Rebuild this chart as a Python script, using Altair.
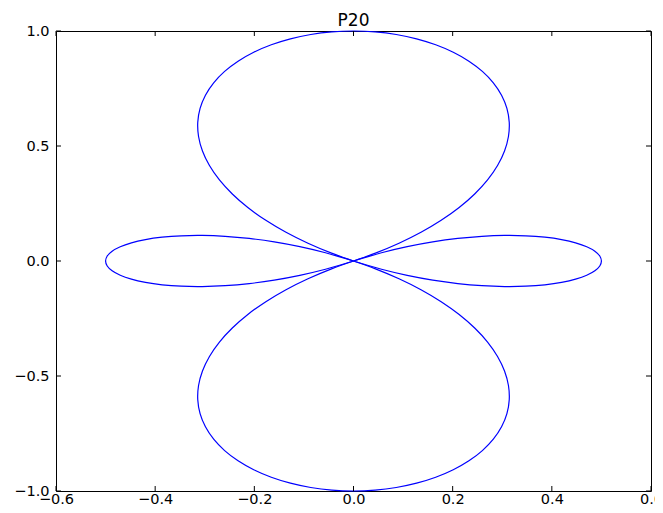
import altair as alt
import pandas as pd

# Curve points, lobe by lobe (each lobe starts and ends at the origin)
top_x = [0.0, -0.0443, -0.0918, -0.1361, -0.1768, -0.2131, -0.2444, -0.2704, -0.2905, -0.3046,
         -0.3125, -0.3141, -0.3094, -0.2986, -0.2820, -0.2599, -0.2328, -0.2012, -0.1658, -0.1272,
         -0.0862, -0.0435, 0.0,
         0.0435, 0.0862, 0.1272, 0.1658, 0.2012, 0.2328, 0.2599, 0.2820, 0.2986, 0.3094,
         0.3141, 0.3125, 0.3046, 0.2905, 0.2704, 0.2444, 0.2131, 0.1768, 0.1361, 0.0918,
         0.0443, 0.0]
top_y = [0.0, 0.0340, 0.0770, 0.1247, 0.1768, 0.2325, 0.2913, 0.3523, 0.4149, 0.4782,
         0.5413, 0.6033, 0.6635, 0.7209, 0.7748, 0.8244, 0.8689, 0.9077, 0.9403, 0.9661,
         0.9849, 0.9962, 1.0,
         0.9962, 0.9849, 0.9661, 0.9403, 0.9077, 0.8689, 0.8244, 0.7748, 0.7209, 0.6635,
         0.6033, 0.5413, 0.4782, 0.4149, 0.3523, 0.2913, 0.2325, 0.1768, 0.1247, 0.0770,
         0.0340, 0.0]
bottom_x = [0.0, -0.0443, -0.0918, -0.1361, -0.1768, -0.2131, -0.2444, -0.2704, -0.2905, -0.3046,
            -0.3125, -0.3141, -0.3094, -0.2986, -0.2820, -0.2599, -0.2328, -0.2012, -0.1658, -0.1272,
            -0.0862, -0.0435, 0.0,
            0.0435, 0.0862, 0.1272, 0.1658, 0.2012, 0.2328, 0.2599, 0.2820, 0.2986, 0.3094,
            0.3141, 0.3125, 0.3046, 0.2905, 0.2704, 0.2444, 0.2131, 0.1768, 0.1361, 0.0918,
            0.0443, 0.0]
bottom_y = [0.0, -0.0340, -0.0770, -0.1247, -0.1768, -0.2325, -0.2913, -0.3523, -0.4149, -0.4782,
            -0.5413, -0.6033, -0.6635, -0.7209, -0.7748, -0.8244, -0.8689, -0.9077, -0.9403, -0.9661,
            -0.9849, -0.9962, -1.0,
            -0.9962, -0.9849, -0.9661, -0.9403, -0.9077, -0.8689, -0.8244, -0.7748, -0.7209, -0.6635,
            -0.6033, -0.5413, -0.4782, -0.4149, -0.3523, -0.2913, -0.2325, -0.1768, -0.1247, -0.0770,
            -0.0340, 0.0]
right_x = [0.0, 0.0565, 0.1083, 0.1598, 0.2103, 0.2590, 0.3050, 0.3475, 0.3859, 0.4196,
           0.4479, 0.4704, 0.4868, 0.4967, 0.5,
           0.4967, 0.4868, 0.4704, 0.4479, 0.4196, 0.3859, 0.3475, 0.3050, 0.2590, 0.2103,
           0.1598, 0.1083, 0.0565, 0.0]
right_y = [0.0, 0.0360, 0.0625, 0.0832, 0.0981, 0.1073, 0.1110, 0.1096, 0.1034, 0.0930,
           0.0790, 0.0619, 0.0426, 0.0217, 0.0,
           -0.0217, -0.0426, -0.0619, -0.0790, -0.0930, -0.1034, -0.1096, -0.1110, -0.1073, -0.0981,
           -0.0832, -0.0625, -0.0360, 0.0]
left_x = [0.0, -0.0565, -0.1083, -0.1598, -0.2103, -0.2590, -0.3050, -0.3475, -0.3859, -0.4196,
          -0.4479, -0.4704, -0.4868, -0.4967, -0.5,
          -0.4967, -0.4868, -0.4704, -0.4479, -0.4196, -0.3859, -0.3475, -0.3050, -0.2590, -0.2103,
          -0.1598, -0.1083, -0.0565, 0.0]
left_y = [0.0, 0.0360, 0.0625, 0.0832, 0.0981, 0.1073, 0.1110, 0.1096, 0.1034, 0.0930,
          0.0790, 0.0619, 0.0426, 0.0217, 0.0,
          -0.0217, -0.0426, -0.0619, -0.0790, -0.0930, -0.1034, -0.1096, -0.1110, -0.1073, -0.0981,
          -0.0832, -0.0625, -0.0360, 0.0]

x_ticks = [-0.6, -0.4, -0.2, 0.0, 0.2, 0.4, 0.6]
y_ticks = [-1.0, -0.5, 0.0, 0.5, 1.0]

rows = []
for name, xs, ys in [("top", top_x, top_y), ("bottom", bottom_x, bottom_y),
                     ("right", right_x, right_y), ("left", left_x, left_y)]:
    for i, (a, b) in enumerate(zip(xs, ys)):
        rows.append({"lobe": name, "i": i, "x": a, "y": b})
df = pd.DataFrame(rows)

W, H = 595, 460
FONT = "DejaVu Sans"
TL = 5
LFS = 14.5

xscale = alt.Scale(domain=[-0.6, 0.6], nice=False, zero=False)
yscale = alt.Scale(domain=[-1.0, 1.0], nice=False, zero=False)

xaxis = alt.Axis(values=x_ticks, format=".1f", title=None, ticks=False, domain=False, grid=False,
                 labelPadding=1, labelFontSize=LFS, labelFont=FONT, labelColor="black",
                 labelFlush=False, labelOverlap=False)
yaxis = alt.Axis(values=y_ticks, format=".1f", title=None, ticks=False, domain=False, grid=False,
                 labelPadding=7, labelFontSize=LFS, labelFont=FONT, labelColor="black",
                 labelFlush=False, labelOverlap=False)

curve = alt.Chart(df).mark_line(color="#0000ff", strokeWidth=1.2, interpolate="catmull-rom").encode(
    x=alt.X("x:Q", scale=xscale, axis=xaxis),
    y=alt.Y("y:Q", scale=yscale, axis=yaxis),
    detail="lobe:N",
    order="i:Q",
)

xt = pd.DataFrame({"x": x_ticks})
yt = pd.DataFrame({"y": y_ticks})
tick_style = dict(color="black", strokeWidth=1)

xt_top = alt.Chart(xt).mark_rule(**tick_style).encode(
    x=alt.X("x:Q", scale=xscale, axis=xaxis), y=alt.value(0), y2=alt.value(TL))
xt_bot = alt.Chart(xt).mark_rule(**tick_style).encode(
    x=alt.X("x:Q", scale=xscale, axis=xaxis), y=alt.value(H), y2=alt.value(H - TL))
yt_left = alt.Chart(yt).mark_rule(**tick_style).encode(
    y=alt.Y("y:Q", scale=yscale, axis=yaxis), x=alt.value(0), x2=alt.value(TL))
yt_right = alt.Chart(yt).mark_rule(**tick_style).encode(
    y=alt.Y("y:Q", scale=yscale, axis=yaxis), x=alt.value(W), x2=alt.value(W - TL))

chart = alt.layer(curve, xt_top, xt_bot, yt_left, yt_right).properties(
    width=W,
    height=H,
    title=alt.TitleParams("P20", fontSize=17, font=FONT, fontWeight="normal", color="black",
                          anchor="middle", frame="group", offset=2, dy=9),
    autosize=alt.AutoSizeParams(type="none"),
    padding={"left": 48, "top": 23, "right": 4, "bottom": 14},
).configure(background="white").configure_view(
    stroke="black", strokeWidth=1
).configure_axis(labelFontSize=LFS, labelFont=FONT, labelColor="black")

chart.save("out.html", embed_options={"renderer": "svg", "actions": False})
